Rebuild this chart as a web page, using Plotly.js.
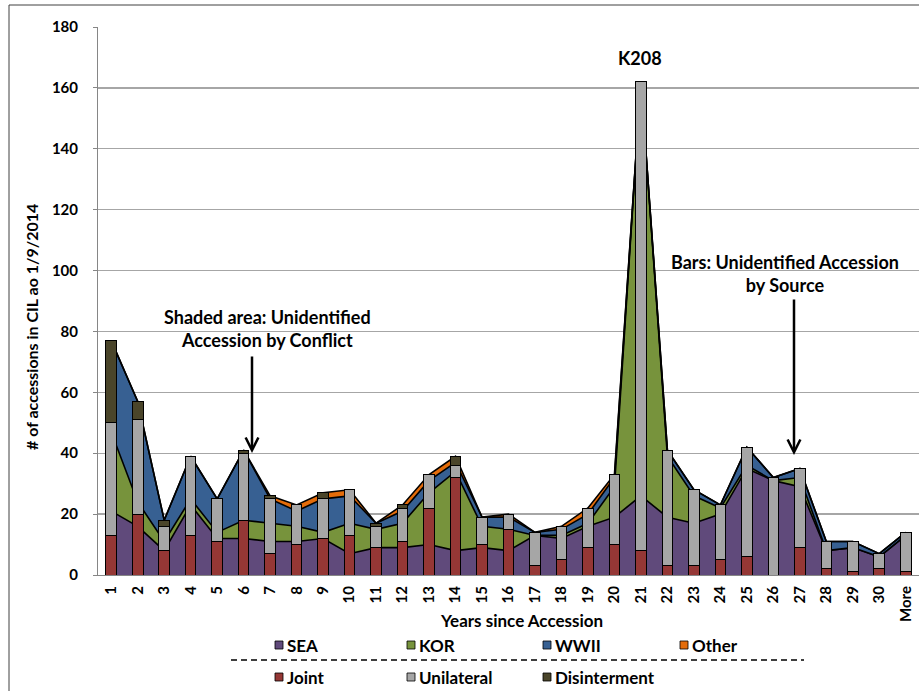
<!DOCTYPE html>
<html>
<head>
<meta charset="utf-8">
<script src="https://cdn.plot.ly/plotly-3.0.1.min.js"></script>
<style>html,body{margin:0;padding:0;background:#fff;}#chart{width:919px;height:691px;}</style>
</head>
<body>
<div id="chart"></div>
<script>
// ---- data ----
const categories = ['1','2','3','4','5','6','7','8','9','10','11','12','13','14','15','16','17','18','19','20','21','22','23','24','25','26','27','28','29','30','More'];

// Shaded areas: unidentified accessions by conflict (stacked)
const areaNames = ['SEA','KOR','WWII','Other'];
const sea   = [21,16,8,23,12,12,11,11,12,7, 9,9,10,8,9,8,13,12,16,19, 26,19,17,20,35,31,29,8,9,6,13];
const kor   = [26,8,3,2,2,6,6,5,2,10, 6,8,17,26,7,7,0,1,1,10, 136,20,9,2,1,0,3,0,0,0,0];
const wwii  = [30,33,7,14,11,23,8,5,11,9, 2,4,4,3,3,4,1,2,3,3, 0,2,2,1,6,1,3,3,2,1,1];
const other = [0,0,0,0,0,0,1,2,2,2, 0,2,2,2,0,1,0,1,2,1, 0,0,0,0,0,0,0,0,0,0,0];

// Bars: unidentified accessions by source (stacked)
const barNames = ['Joint','Unilateral','Disinterment'];
const joint      = [13,20,8,13,11,18,7,10,12,13, 9,11,22,32,10,15,3,5,9,10, 8,3,3,5,6,0,9,2,1,2,1];
const unilateral = [37,31,8,26,14,22,18,13,13,15, 7,11,11,4,9,5,11,11,13,23, 154,38,25,18,36,32,26,9,10,5,13];
const disinter   = [27,6,2,0,0,1,1,0,2,0, 1,1,0,3,0,0,0,0,0,0, 0,0,0,0,0,0,0,0,0,0,0];

const yTicks = [0,20,40,60,80,100,120,140,160,180];

// ---- styles ----
const areaColors = ['#604A7B','#77933C','#376092','#E46C0A'];
const barColors  = ['#953735','#A6A6A6','#4A452A'];
const FONT = 'Lato, "Open Sans", sans-serif';

const areaSeries = [sea, kor, wwii, other];
const barSeries  = [joint, unilateral, disinter];

const traces = [];
areaSeries.forEach((vals, i) => {
  traces.push({
    type: 'scatter', mode: 'lines', x: categories, y: vals,
    name: areaNames[i], stackgroup: 'conf', fill: 'tonexty',
    fillcolor: areaColors[i], line: {color: '#000', width: 1.6},
    hoverinfo: 'skip', xaxis: 'x', yaxis: 'y'
  });
});
barSeries.forEach((vals, i) => {
  traces.push({
    type: 'bar', x: categories, y: vals, name: barNames[i],
    width: 0.4, marker: {color: barColors[i], line: {color: '#000', width: 1}},
    hoverinfo: 'skip', xaxis: 'x2', yaxis: 'y2'
  });
});

// pixel -> paper helpers (plot area: x 98..919, y 27..575)
const L = 98, R = 919, T = 27, B = 575;
const px = x => (x - L) / (R - L);
const py = y => (B - y) / (B - T);

const shapes = [
  // outer chart border (left and top)
  {type:'line', xref:'paper', yref:'paper', x0:px(9), x1:px(9), y0:py(5), y1:py(691), line:{color:'#404040', width:1}},
  {type:'line', xref:'paper', yref:'paper', x0:px(9), x1:px(919), y0:py(5), y1:py(5), line:{color:'#404040', width:1}},
  // legend separator
  {type:'line', xref:'paper', yref:'paper', x0:px(231), x1:px(804), y0:py(660), y1:py(660), line:{color:'#000', width:1.5, dash:'6px,4px'}}
];
const annotations = [];

// legend (two rows)
const row1X = [275, 407, 543, 680];
const row2X = [275, 407, 543];
function legendItem(x, y, color, label) {
  shapes.push({type:'rect', xref:'paper', yref:'paper', x0:px(x), x1:px(x+8), y0:py(y+4), y1:py(y-4),
    fillcolor: color, line:{color:'#000', width:0.8}});
  annotations.push({xref:'paper', yref:'paper', x:px(x+10), y:py(y), xanchor:'left', yanchor:'middle',
    text: label, showarrow:false, font:{family:FONT, size:17, color:'#000', weight:700}});
}
areaNames.forEach((n, i) => legendItem(row1X[i], 645, areaColors[i], n));
barNames.forEach((n, i) => legendItem(row2X[i], 677, barColors[i], n));

function label(x, y, text, size, extra) {
  return Object.assign({xref:'paper', yref:'paper', x:px(x), y:py(y), xanchor:'center', yanchor:'middle',
    text:text, showarrow:false, font:{family:FONT, size:size, color:'#000', weight:700}}, extra || {});
}

// text annotations
annotations.push(
  label(640, 58, 'K208', 18),
  label(267, 328, 'Shaded area: Unidentified<br>Accession by Conflict', 18),
  label(785, 273, 'Bars: Unidentified Accession<br>by Source', 18),
  label(521, 620, 'Years since Accession', 17),
  label(31, 327, '# of accessions in CIL ao 1/9/2014', 16, {textangle:-90}),
  // arrows
  {xref:'paper', yref:'paper', x:px(252), y:py(453), ax:0, ay:-98, text:'', showarrow:true,
   arrowhead:5, arrowsize:1, arrowwidth:2.5, arrowcolor:'#000'},
  {xref:'paper', yref:'paper', x:px(794), y:py(455), ax:0, ay:-157, text:'', showarrow:true,
   arrowhead:5, arrowsize:1, arrowwidth:2.5, arrowcolor:'#000'}
);

const layout = {
  width: 919, height: 691,
  margin: {l: L, r: 919 - R, t: T, b: 691 - B, pad: 0},
  paper_bgcolor: '#fff', plot_bgcolor: '#fff',
  showlegend: false,
  barmode: 'stack',
  font: {family: FONT, color: '#000'},
  xaxis: {
    type: 'category', categoryorder: 'array', categoryarray: categories,
    range: [-0.5, categories.length - 0.5], tickangle: -90,
    tickfont: {family: FONT, size: 15, color: '#000', weight: 700},
    showline: true, linecolor: '#868686', linewidth: 1, ticks: '', showgrid: false,
    ticklabelstandoff: 4, fixedrange: true
  },
  yaxis: {
    range: [0, 180], tickvals: yTicks, ticktext: yTicks.map(String),
    tickfont: {family: FONT, size: 15, color: '#000', weight: 700},
    showgrid: true, gridcolor: '#A6A6A6', gridwidth: 1.3, zeroline: false,
    showline: true, linecolor: '#868686', linewidth: 1,
    ticks: 'outside', ticklen: 4, tickcolor: '#868686', ticklabelstandoff: 12, fixedrange: true
  },
  xaxis2: {
    type: 'category', categoryorder: 'array', categoryarray: categories,
    range: [-0.5, categories.length - 0.5], overlaying: 'x', anchor: 'y2', visible: false, fixedrange: true
  },
  yaxis2: {range: [0, 180], overlaying: 'y', anchor: 'x2', visible: false, fixedrange: true},
  shapes: shapes,
  annotations: annotations
};

Plotly.newPlot('chart', traces, layout, {displayModeBar: false, staticPlot: true});
</script>
</body>
</html>
